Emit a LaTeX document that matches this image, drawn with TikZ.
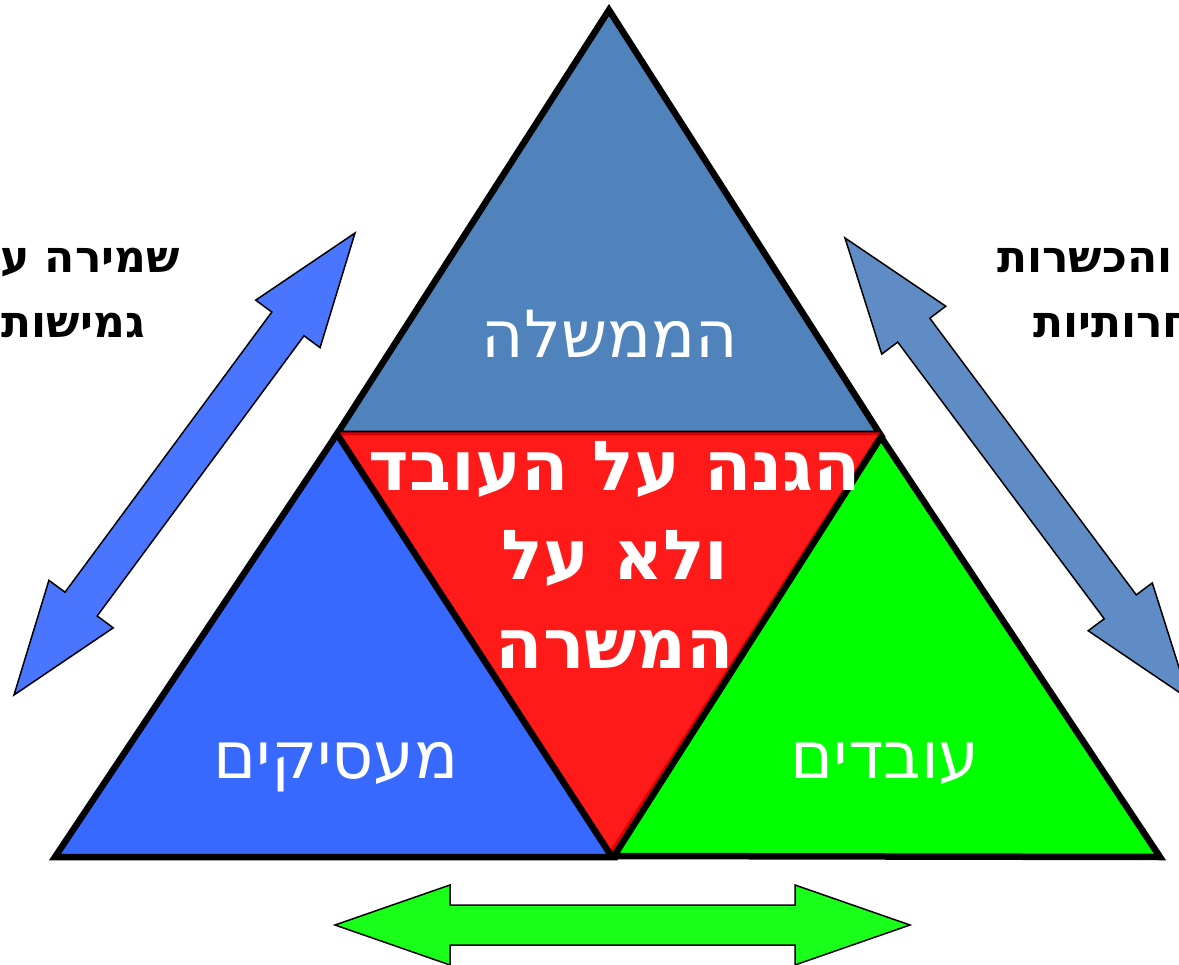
\documentclass[tikz,border=0pt]{standalone}
\usepackage{fontspec}
\setmainfont{DejaVu Sans}
\newfontfamily\hebfont[Script=Hebrew]{DejaVu Sans}
\TeXXeTstate=1
\usetikzlibrary{calc}
\definecolor{govblue}{HTML}{5082BC}
\definecolor{empblue}{HTML}{3869FF}
\definecolor{wrkgreen}{HTML}{00FF00}
\definecolor{protred}{HTML}{FF1A1A}
\definecolor{protedge}{HTML}{E00000}
\definecolor{arrleft}{HTML}{4A76FF}
\definecolor{arrright}{HTML}{5F8CC4}
\definecolor{arrgreen}{HTML}{1AFF1A}
\tikzset{
  tri/.style={draw=black, line width=6.5pt, line join=miter},
  lbl/.style={font=\hebfont\fontsize{65}{65}\selectfont, text=white, inner sep=0pt},
  bold/.style={font=\hebfont\bfseries\fontsize{69}{89}\selectfont, text=white,
    inner sep=0pt, align=center},
  side/.style={font=\hebfont\bfseries\fontsize{44}{44}\selectfont, inner sep=0pt},
  blockarrow/.style={draw=black, line width=1.5pt, line join=miter},
}
% double block arrow: [style]{from}{to}{head length}{head half width}{shaft half width}
\newcommand{\dblarrow}[6][]{%
  \coordinate (h1) at ($(#2)!#4!(#3)$);
  \coordinate (h2) at ($(#3)!#4!(#2)$);
  \draw[#1] (#2) -- ($(h1)!#5!-90:(#3)$) -- ($(h1)!#6!-90:(#3)$)
    -- ($(h2)!#6!90:(#2)$) -- ($(h2)!#5!90:(#2)$) -- (#3)
    -- ($(h2)!#5!-90:(#2)$) -- ($(h2)!#6!-90:(#2)$)
    -- ($(h1)!#6!90:(#3)$) -- ($(h1)!#5!90:(#3)$) -- cycle;
}

\begin{document}
\begin{tikzpicture}[x=1pt, y=-1pt]
  \useasboundingbox (0,0) rectangle (1179,965);
  \clip (0,0) rectangle (1179,965);
  \coordinate (apex) at (609,10);
  \coordinate (lm) at (337,434);
  \coordinate (rm) at (880,434);
  \coordinate (bl) at (55,857);
  \coordinate (bm) at (612,857);
  \coordinate (br) at (1160,857);

  \fill[govblue, tri] (apex) -- (lm) -- (rm) -- cycle;
  \fill[protred, draw=protedge, line width=3pt] (lm) -- (rm) -- (609,855) -- cycle;
  \fill[empblue, tri] (lm) -- (bl) -- (bm) -- cycle;
  \fill[wrkgreen, tri] (881,437) -- (614,856) -- (br) -- cycle;

  \node[lbl, anchor=base] (gov) at (610,358) {\beginR הממשלה\endR};
  \node[lbl, anchor=base] (emp) at (336,778) {\beginR מעסיקים\endR};
  \node[lbl, anchor=base] (wrk) at (885,778) {\beginR עובדים\endR};
  \node[bold, anchor=base] (prot) at (615,668)
       {\beginR הגנה על העובד\endR\\\beginR ולא על\endR\\\beginR המשרה\endR};

  \coordinate (la) at (355,233);
  \coordinate (lb) at (14,695);
  \coordinate (ra) at (845,238);
  \coordinate (rb) at (1189,699);
  \coordinate (ba) at (335,925);
  \coordinate (bb) at (910,925);
  \dblarrow[blockarrow, fill=arrleft]{la}{lb}{113pt}{40pt}{20pt}
  \dblarrow[blockarrow, fill=arrright]{ra}{rb}{115pt}{40pt}{20pt}
  \dblarrow[blockarrow, fill=arrgreen]{ba}{bb}{115pt}{40pt}{20pt}

  \node[side, anchor=base east] (keep1) at (180,273) {\beginR שמירה על\endR};
  \node[side, anchor=base east] (keep2) at (145,338) {\beginR גמישות\endR};
  \node[side, anchor=base west] (train1) at (997,273) {\beginR והכשרות\endR};
  \node[side, anchor=base west] (train2) at (1033,338) {\beginR תחרותיות\endR};
\end{tikzpicture}
\end{document}
